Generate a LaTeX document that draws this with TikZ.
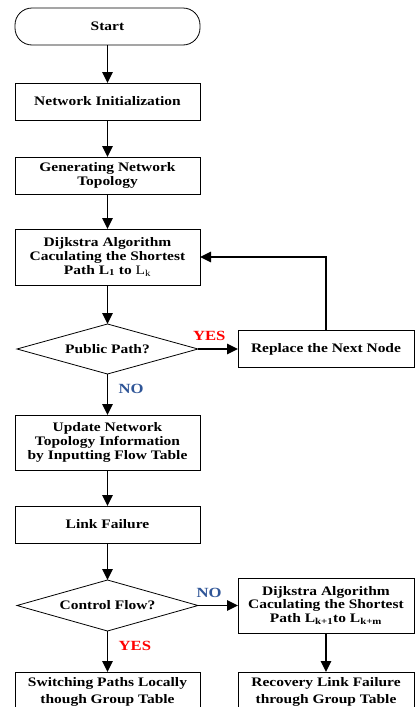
\documentclass[tikz,border=0pt]{standalone}
\usepackage{fontspec}
\setmainfont{Liberation Serif}[FakeStretch=1.19]
\usetikzlibrary{shapes.geometric,positioning,arrows.meta}
\definecolor{noblue}{RGB}{47,85,151}

\begin{document}
\begin{tikzpicture}[
      every node/.style={font=\fontsize{13}{13.7}\selectfont\bfseries,
                         align=center},
      box/.style={rectangle,draw=black,line width=0.8pt,inner sep=3pt,
                  outer sep=0pt,minimum width=185pt,minimum height=37pt},
      tall/.style={minimum height=56pt},
      side/.style={minimum width=176pt},
      terminal/.style={box,rounded corners=17pt},
      decision/.style={diamond,draw=black,line width=0.8pt,aspect=3.6,
                       inner sep=0pt,outer sep=0pt,
                       minimum width=181pt,minimum height=50pt},
      last/.style={font=\fontsize{13}{17.5}\selectfont\bfseries,
                   minimum height=40pt},
      single/.style={draw,line width=1.6pt,-{Triangle[length=11pt,width=10.5pt]}},
      yes/.style={text=red,font=\fontsize{14}{14}\selectfont\bfseries},
      no/.style={text=noblue,font=\fontsize{14}{14}\selectfont\bfseries},
    ]
      \useasboundingbox (0,0) rectangle (415pt,-707pt);
      % main column
      \node[terminal] (start) at (107.5pt,-26.5pt) {Start};
      \node[box, below=38pt of start] (init) {Network Initialization};
      \node[box, below=37pt of init] (topo) {Generating Network\\Topology};
      \node[box, tall, below=35pt of topo] (dijk) {Dijkstra Algorithm\\
        Caculating the Shortest\\
        Path L\textsubscript{1} to {\mdseries L\textsubscript{k}}};
      \node[decision, below=39pt of dijk] (public) {Public Path?};
      \node[box, side, right=40pt of public] (replace) {Replace the Next Node};
      \node[box, tall, minimum height=55pt, below=41pt of public] (update) {Update Network\\
        Topology Information\\by Inputting Flow Table};
      \node[box, below=36pt of update] (failure) {Link Failure};
      \node[decision, minimum height=51pt, below=37pt of failure] (control) {Control Flow?};
      \node[box, tall, side, minimum height=55pt, right=40pt of control] (dijkb) {Dijkstra Algorithm\\
        Caculating the Shortest\\
        Path L\textsubscript{k+1}to L\textsubscript{k+m}};
      \node[box, last, below=41pt of control] (local) {Switching Paths Locally\\though Group Table};
      \node[box, side, last, below=39pt of dijkb] (recover) {Recovery Link Failure\\through Group Table};
      % connectors
      \path(start) edge[single] (init);
      \path(init) edge[single] (topo);
      \path(topo) edge[single] (dijk);
      \path(dijk) edge[single] (public);
      \path(public) edge[single] node[yes, pos=0.28, above=4pt] {YES} (replace);
      \draw[single] (replace.north) |- (dijk.east);
      \path(public) edge[single] node[no, pos=0.37, right=7pt] {NO} (update);
      \path(update) edge[single] (failure);
      \path(failure) edge[single] (control);
      \path(control) edge[single] node[no, pos=0.28, above=4pt] {NO} (dijkb);
      \path(control) edge[single] node[yes, pos=0.37, right=7pt] {YES} (local);
      \path(dijkb) edge[single] (recover);
    \end{tikzpicture}
\end{document}
